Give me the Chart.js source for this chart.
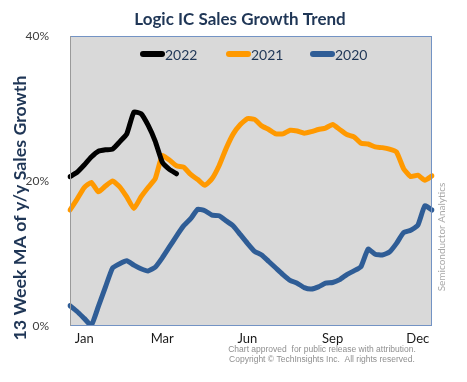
<!DOCTYPE html>
<html><head><meta charset="utf-8">
<script src="https://cdn.jsdelivr.net/npm/chart.js@4.4.0/dist/chart.umd.min.js"></script>
<style>html,body{margin:0;padding:0;background:#fff}#wrap{width:467px;height:382px;position:relative}</style>
</head><body><div id="wrap"><canvas id="c" width="467" height="382"></canvas></div>
<script>
// Weekly categories (52 weeks)
const weeks = [];
for (let w = 1; w <= 52; w++) weeks.push('W' + w);
const monthTicks = ['Jan', 'Mar', 'Jun', 'Sep', 'Dec'];
const monthTickWeeks = [2, 13, 25, 37, 49];
const yTicks = [0, 20, 40];

const series2022 = [20.6,21.2,22.2,23.3,24.1,24.3,24.4,25.4,26.5,29.5,29.3,27.7,25.5,22.6,21.6,21.0];
const series2021 = [16.0,17.5,19.1,19.8,18.5,19.3,20.0,19.2,17.8,16.2,17.8,19.1,20.3,23.5,22.9,22.1,21.9,20.9,20.2,19.4,20.3,22.1,24.5,26.5,27.8,28.6,28.5,27.6,27.1,26.5,26.5,27.0,26.9,26.6,26.8,27.1,27.3,27.8,27.1,26.4,26.1,25.2,25.1,24.7,24.6,24.4,24.0,21.7,20.6,20.8,20.1,20.7];
const series2020 = [2.8,2.0,1.05,0.1,2.7,5.4,8.0,8.6,9.0,8.4,7.9,7.6,8.1,9.4,10.9,12.4,13.8,14.8,16.1,15.9,15.3,15.2,14.5,13.8,12.6,11.4,10.3,9.8,8.9,8.0,7.1,6.3,5.9,5.3,5.1,5.4,5.9,6.0,6.4,7.1,7.6,8.2,10.6,9.9,9.8,10.2,11.4,12.9,13.2,13.9,16.6,16.0];

const NAVY = '#1f3656';

const decor = {
  id: 'decor',
  beforeDatasetsDraw(chart) {
    const {ctx, chartArea: a} = chart;
    ctx.save();
    ctx.fillStyle = '#d9d9d9';
    ctx.fillRect(a.left, a.top, a.right - a.left, a.bottom - a.top);
    ctx.restore();
  },
  afterDatasetsDraw(chart) {
    const {ctx, chartArea: a} = chart;
    ctx.save();
    ctx.lineWidth = 1;
    ctx.strokeStyle = '#7393c4';
    ctx.strokeRect(a.left + 0.5, a.top + 0.5, a.right - a.left - 1, a.bottom - a.top - 1);
    ctx.strokeStyle = '#9a9a9a';
    ctx.beginPath(); ctx.moveTo(a.left + 0.5, a.top); ctx.lineTo(a.left + 0.5, a.bottom); ctx.stroke();
    ctx.restore();
  },
  afterDraw(chart) {
    const {ctx, chartArea: a} = chart;
    ctx.save();
    // Title
    ctx.fillStyle = NAVY;
    ctx.font = 'bold 17px Lato';
    ctx.textAlign = 'center';
    ctx.textBaseline = 'middle';
    ctx.fillText('Logic IC Sales Growth Trend', 240, 20);
    // Legend inside plot
    const legendX = [140, 226, 310];
    chart.data.datasets.forEach((ds, i) => {
      const x = legendX[i], y = 54;
      ctx.strokeStyle = ds.borderColor;
      ctx.lineWidth = 6;
      ctx.lineCap = 'round';
      ctx.beginPath(); ctx.moveTo(x + 3, y); ctx.lineTo(x + 22, y); ctx.stroke();
      ctx.fillStyle = NAVY;
      ctx.font = '14px Lato';
      ctx.textAlign = 'left';
      ctx.fillText(ds.label, x + 25, y + 1);
    });
    // Y-axis title
    ctx.save();
    ctx.translate(20, 208);
    ctx.rotate(-Math.PI / 2);
    ctx.fillStyle = NAVY;
    ctx.font = 'bold 17.8px Lato';
    ctx.textAlign = 'center';
    ctx.fillText('13 Week MA of y/y Sales Growth', 0, 0);
    ctx.restore();
    // Right watermark
    ctx.save();
    ctx.translate(442, 237);
    ctx.rotate(-Math.PI / 2);
    ctx.fillStyle = '#a8a8a8';
    ctx.font = '10px Lato';
    ctx.textAlign = 'center';
    ctx.fillText('Semiconductor Analytics', 0, 0);
    ctx.restore();
    // Footer
    ctx.fillStyle = '#8f8f8f';
    ctx.font = '8.5px "Liberation Sans"';
    ctx.textAlign = 'center';
    ctx.fillText('Chart approved  for public release with attribution.', 322, 350);
    ctx.fillText('Copyright \u00A9 TechInsights Inc.  All rights reserved.', 322, 360);
    ctx.restore();
  }
};

function pad(arr) { return arr.concat(new Array(weeks.length - arr.length).fill(null)); }

new Chart(document.getElementById('c'), {
  type: 'line',
  data: {
    labels: weeks,
    datasets: [
      {label: '2022', data: pad(series2022), borderColor: '#000000'},
      {label: '2021', data: series2021, borderColor: '#ff9900'},
      {label: '2020', data: series2020, borderColor: '#2f5d96'}
    ].map(d => Object.assign(d, {borderWidth: 5, pointRadius: 0, tension: 0.15, borderJoinStyle: 'round', borderCapStyle: 'round', fill: false}))
  },
  options: {
    responsive: false,
    devicePixelRatio: 1,
    animation: false,
    layout: {padding: {left: 0, right: 35, top: 36, bottom: 0}},
    plugins: {legend: {display: false}, tooltip: {enabled: false}, title: {display: false}},
    scales: {
      x: {
        grid: {display: false},
        border: {display: false},
        afterFit(s) { s.height = 56; },
        ticks: {
          autoSkip: false, maxRotation: 0, minRotation: 0, padding: -3,
          color: '#1a1a1a', font: {family: 'Lato', size: 13},
          callback(v, i) { const k = monthTickWeeks.indexOf(i); return k >= 0 ? monthTicks[k] : ''; }
        }
      },
      y: {
        min: 0, max: 40,
        grid: {display: false},
        border: {display: false},
        afterFit(s) { s.width = 70; },
        afterBuildTicks(s) { s.ticks = yTicks.map(v => ({value: v})); },
        ticks: {
          padding: 13, color: '#404040', font: {family: 'Lato', size: 12},
          callback(v) { return v + '%'; }
        }
      }
    }
  },
  plugins: [decor]
});
</script></body></html>
